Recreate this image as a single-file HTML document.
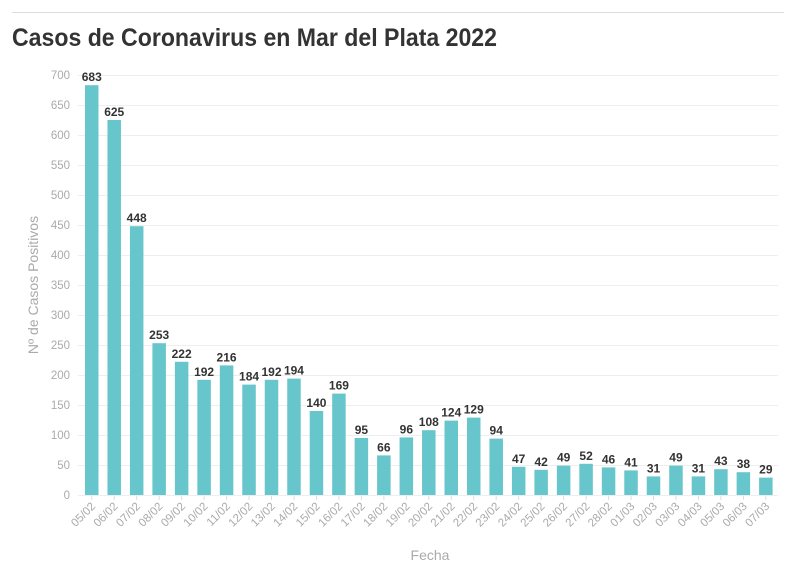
<!DOCTYPE html>
<html><head><meta charset="utf-8"><style>
body{margin:0;background:#fff;width:796px;height:575px;overflow:hidden;font-family:"Liberation Sans",sans-serif}
</style></head><body>
<svg width="796" height="575" xmlns="http://www.w3.org/2000/svg" font-family="Liberation Sans, sans-serif">
<line x1="12" y1="12.5" x2="784" y2="12.5" stroke="#ddd" stroke-width="1"/>
<text x="12" y="46" font-size="25" font-weight="bold" fill="#333" textLength="485" lengthAdjust="spacingAndGlyphs">Casos de Coronavirus en Mar del Plata 2022</text>
<g id="grid" stroke="#eee" stroke-width="1"></g>
<g id="ylab" font-size="11.5" fill="#aaa" text-anchor="end"></g>
<g id="bars"></g>
<text transform="translate(38,285) rotate(-90)" font-size="14" fill="#aaa" text-anchor="middle">Nº de Casos Positivos</text>
<text x="430" y="560" font-size="14" fill="#aaa" text-anchor="middle">Fecha</text>
</svg>
<script>
const v=[683,625,448,253,222,192,216,184,192,194,140,169,95,66,96,108,124,129,94,47,42,49,52,46,41,31,49,31,43,38,29];
const d=["05/02","06/02","07/02","08/02","09/02","10/02","11/02","12/02","13/02","14/02","15/02","16/02","17/02","18/02","19/02","20/02","21/02","22/02","23/02","24/02","25/02","26/02","27/02","28/02","01/03","02/03","03/03","04/03","05/03","06/03","07/03"];
const ns="http://www.w3.org/2000/svg";
function el(p,t,a,txt){const e=document.createElementNS(ns,t);for(const k in a)e.setAttribute(k,a[k]);if(txt!=null)e.textContent=txt;p.appendChild(e);return e;}
const g=document.getElementById("grid"),yl=document.getElementById("ylab"),b=document.getElementById("bars");
for(let i=0;i<=14;i++){const y=495-i*30;el(g,"line",{x1:78,x2:778,y1:y+0.5,y2:y+0.5});el(yl,"text",{x:70,y:y+4},i*50);}
v.forEach((val,i)=>{const x=85+i*22.47,h=val*0.6;
el(b,"rect",{x:x,y:495-h,width:13.5,height:h,fill:"#67c6cc"});
el(b,"text",{x:x+6.75,y:495-h-4,"font-size":12,"font-weight":"bold",fill:"#333","text-anchor":"middle"},val);
el(b,"line",{x1:x+6.75,x2:x+6.75,y1:496,y2:500,stroke:"#ddd"});
el(b,"text",{transform:`translate(${x+11},${507}) rotate(-45)`,"font-size":11.5,fill:"#aaa","text-anchor":"end"},d[i]);
});
</script>
</body></html>
